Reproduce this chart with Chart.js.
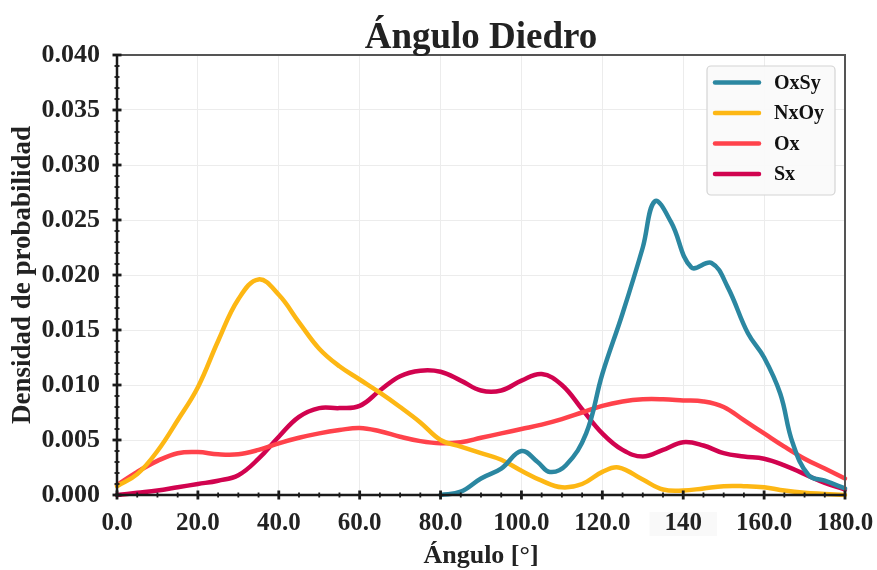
<!DOCTYPE html>
<html>
<head>
<meta charset="utf-8">
<title>Ángulo Diedro</title>
<script src="https://cdn.jsdelivr.net/npm/chart.js@4.4.1/dist/chart.umd.min.js"></script>
<style>
  html, body { margin: 0; padding: 0; background: #ffffff; }
  #wrap { width: 877px; height: 570px; }
</style>
</head>
<body>
<div id="wrap"><canvas id="grafico" width="877" height="570"></canvas></div>
<script>
// Densidad de probabilidad del ángulo diedro por tipo de interacción
const angulosOxSy  = [80, 85, 90, 95, 100, 104, 107, 111, 116, 120, 125, 130, 133, 137, 142, 147, 151, 156, 160, 164, 167, 171, 175, 180];
const densidadOxSy = [0.0000, 0.0003, 0.0015, 0.0024, 0.0040, 0.0030, 0.0021, 0.0027, 0.0056, 0.0110, 0.0165, 0.0225, 0.0267, 0.0248, 0.0207, 0.0211, 0.0189, 0.0147, 0.0125, 0.0092, 0.0048, 0.0018, 0.0013, 0.0006];

const angulosNxOy  = [0, 5, 10, 15, 20, 25, 30, 35, 40, 45, 50, 55, 60, 65, 70, 75, 80, 85, 90, 95, 100, 105, 110, 115, 120, 124, 130, 135, 140, 145, 150, 155, 160, 165, 170, 175, 180];
const densidadNxOy = [0.0008, 0.0019, 0.0040, 0.0068, 0.0098, 0.0140, 0.0178, 0.0196, 0.0182, 0.0157, 0.0133, 0.0117, 0.0105, 0.0093, 0.0080, 0.0066, 0.0050, 0.0044, 0.0038, 0.0032, 0.0022, 0.0013, 0.0007, 0.0010, 0.0021, 0.0025, 0.0014, 0.0005, 0.0004, 0.0006, 0.0008, 0.0008, 0.0007, 0.0004, 0.0002, 0.0001, 0.0000];

const angulosOx    = [0, 5, 10, 15, 20, 25, 30, 35, 40, 45, 50, 55, 60, 65, 70, 75, 80, 85, 90, 95, 100, 105, 110, 115, 120, 125, 130, 135, 140, 145, 150, 155, 160, 165, 170, 175, 180];
const densidadOx   = [0.0009, 0.0021, 0.0031, 0.0038, 0.0039, 0.0037, 0.0037, 0.0041, 0.0047, 0.0052, 0.0056, 0.0059, 0.0061, 0.0058, 0.0053, 0.0049, 0.0047, 0.0048, 0.0052, 0.0056, 0.0060, 0.0064, 0.0069, 0.0075, 0.0081, 0.0085, 0.0087, 0.0087, 0.0086, 0.0085, 0.0080, 0.0068, 0.0056, 0.0044, 0.0033, 0.0024, 0.0015];

const angulosSx    = [0, 5, 10, 15, 20, 25, 30, 35, 40, 45, 50, 55, 60, 65, 70, 75, 80, 85, 90, 95, 100, 105, 110, 115, 120, 125, 130, 135, 140, 145, 150, 155, 160, 165, 170, 175, 180];
const densidadSx   = [0.0000, 0.0002, 0.0004, 0.0007, 0.0010, 0.0013, 0.0018, 0.0033, 0.0053, 0.0071, 0.0079, 0.0079, 0.0081, 0.0095, 0.0108, 0.0113, 0.0112, 0.0104, 0.0095, 0.0095, 0.0104, 0.0110, 0.0100, 0.0078, 0.0056, 0.0041, 0.0035, 0.0041, 0.0048, 0.0045, 0.0038, 0.0035, 0.0033, 0.0027, 0.0019, 0.0011, 0.0005];

const series   = ['OxSy', 'NxOy', 'Ox', 'Sx'];
const colores  = ['#2b87a1', '#fdb714', '#ff424b', '#d1034f'];
const angulos  = [angulosOxSy, angulosNxOy, angulosOx, angulosSx];
const valores  = [densidadOxSy, densidadNxOy, densidadOx, densidadSx];

const xMarcas = [0, 20, 40, 60, 80, 100, 120, 140, 160, 180];
const xEtiquetas = ['0.0', '20.0', '40.0', '60.0', '80.0', '100.0', '120.0', '140', '160.0', '180.0'];

const titulo = 'Ángulo Diedro';

const SERIF = '"Liberation Serif", "Times New Roman", Times, serif';
const TEXTO = '#222222';

const datasets = series.map((nombre, i) => ({
  label: nombre,
  data: angulos[i].map((a, k) => ({ x: a, y: valores[i][k] })),
  borderColor: colores[i],
  backgroundColor: colores[i],
  borderWidth: 4.5,
  pointRadius: 0,
  pointHoverRadius: 0,
  fill: false,
  tension: 0.4,
  borderCapStyle: 'round',
  borderJoinStyle: 'round',
  clip: 4
}));

const esMayorX = v => Math.abs(v % 20) < 1e-9;
const esMayorY = v => Math.round(v * 1000) % 5 === 0;

// Marco del área de trazado y marcas de los ejes (cruzan la línea del eje)
const marcoEjes = {
  id: 'marcoEjes',
  afterDatasetsDraw(chart) {
    const { ctx, chartArea: a, scales: { x, y } } = chart;
    ctx.save();
    ctx.lineCap = 'butt';
    ctx.strokeStyle = '#555555';
    ctx.lineWidth = 2;
    ctx.beginPath();
    ctx.moveTo(a.left, a.top);
    ctx.lineTo(a.right, a.top);
    ctx.lineTo(a.right, a.bottom);
    ctx.stroke();

    ctx.strokeStyle = '#1a1a1a';
    ctx.lineWidth = 2.5;
    ctx.beginPath();
    ctx.moveTo(a.left, a.top);
    ctx.lineTo(a.left, a.bottom);
    ctx.lineTo(a.right, a.bottom);
    ctx.stroke();

    x.ticks.forEach(t => {
      const px = x.getPixelForValue(t.value);
      const mayor = esMayorX(t.value);
      const h = mayor ? 4.5 : 2.5;
      ctx.lineWidth = mayor ? 2.8 : 1.8;
      ctx.beginPath();
      ctx.moveTo(px, a.bottom - h);
      ctx.lineTo(px, a.bottom + h);
      ctx.stroke();
    });
    y.ticks.forEach(t => {
      const py = y.getPixelForValue(t.value);
      const mayor = esMayorY(t.value);
      const w = mayor ? 4.5 : 2.5;
      ctx.lineWidth = mayor ? 2.8 : 1.8;
      ctx.beginPath();
      ctx.moveTo(a.left - w, py);
      ctx.lineTo(a.left + w, py);
      ctx.stroke();
    });
    ctx.restore();
  }
};

// Título centrado sobre el área de trazado y leyenda en la esquina superior derecha
const rotulos = {
  id: 'rotulos',
  afterDraw(chart) {
    const { ctx, chartArea: a } = chart;
    ctx.save();
    ctx.font = 'bold 37px ' + SERIF;
    ctx.fillStyle = TEXTO;
    ctx.textAlign = 'center';
    ctx.textBaseline = 'alphabetic';
    ctx.fillText(titulo, (a.left + a.right) / 2, 48);

    const caja = { x: a.right - 138, y: a.top + 11, w: 128, h: 129 };
    ctx.beginPath();
    ctx.roundRect(caja.x, caja.y, caja.w, caja.h, 4);
    ctx.fillStyle = 'rgba(250,250,250,0.92)';
    ctx.fill();
    ctx.strokeStyle = '#d4d4d4';
    ctx.lineWidth = 1.2;
    ctx.stroke();

    ctx.font = 'bold 20px ' + SERIF;
    ctx.textBaseline = 'middle';
    ctx.textAlign = 'left';
    chart.data.datasets.forEach((ds, i) => {
      const yy = caja.y + 16.5 + i * 30.5;
      ctx.strokeStyle = ds.borderColor;
      ctx.lineWidth = 4.5;
      ctx.lineCap = 'round';
      ctx.beginPath();
      ctx.moveTo(caja.x + 8, yy);
      ctx.lineTo(caja.x + 52, yy);
      ctx.stroke();
      ctx.fillStyle = '#111111';
      ctx.fillText(ds.label, caja.x + 67, yy + 1);
    });
    ctx.restore();
  }
};

new Chart(document.getElementById('grafico'), {
  type: 'line',
  data: { datasets },
  plugins: [marcoEjes, rotulos],
  options: {
    responsive: false,
    animation: false,
    devicePixelRatio: 1,
    layout: { padding: { left: 0, right: 32, top: 55, bottom: 0 } },
    plugins: {
      legend: { display: false },
      tooltip: { enabled: false },
      title: { display: false }
    },
    scales: {
      x: {
        type: 'linear',
        min: 0,
        max: 180,
        afterFit: s => { s.height = 75; s.paddingLeft = 0; s.paddingRight = 20; },
        afterBuildTicks: s => {
          const ts = [];
          for (let v = 0; v <= 180; v += 5) ts.push({ value: v });
          s.ticks = ts;
        },
        ticks: {
          autoSkip: false,
          maxRotation: 0,
          padding: 14,
          color: TEXTO,
          font: { family: SERIF, size: 25, weight: 'bold' },
          callback: v => {
            const k = xMarcas.indexOf(v);
            return k >= 0 ? xEtiquetas[k] : '';
          },
          showLabelBackdrop: c => c.tick && c.tick.value === 140,
          backdropColor: '#f9f9f9',
          backdropPadding: { left: 15, right: 15, top: -3, bottom: -3 }
        },
        grid: {
          drawTicks: false,
          lineWidth: 1,
          color: c => (c.tick && esMayorX(c.tick.value)) ? '#ececec' : 'rgba(0,0,0,0)'
        },
        border: { display: false },
        title: {
          display: true,
          text: 'Ángulo [°]',
          color: TEXTO,
          font: { family: SERIF, size: 26, weight: 'bold' },
          padding: { top: 0, bottom: -2 }
        }
      },
      y: {
        type: 'linear',
        min: 0,
        max: 0.04,
        afterFit: s => { s.width = 117; s.paddingTop = 0; s.paddingBottom = 0; },
        afterBuildTicks: s => {
          const ts = [];
          for (let k = 0; k <= 40; k++) ts.push({ value: k / 1000 });
          s.ticks = ts;
        },
        ticks: {
          autoSkip: false,
          padding: 17,
          color: TEXTO,
          font: { family: SERIF, size: 26, weight: 'bold' },
          callback: v => esMayorY(v) ? v.toFixed(3) : ''
        },
        grid: {
          drawTicks: false,
          lineWidth: 1,
          color: c => (c.tick && esMayorY(c.tick.value)) ? '#ececec' : 'rgba(0,0,0,0)'
        },
        border: { display: false },
        title: {
          display: true,
          text: 'Densidad de probabilidad',
          color: TEXTO,
          font: { family: SERIF, size: 27, weight: 'bold' },
          padding: { top: 7, bottom: 0 }
        }
      }
    }
  }
});
</script>
</body>
</html>
